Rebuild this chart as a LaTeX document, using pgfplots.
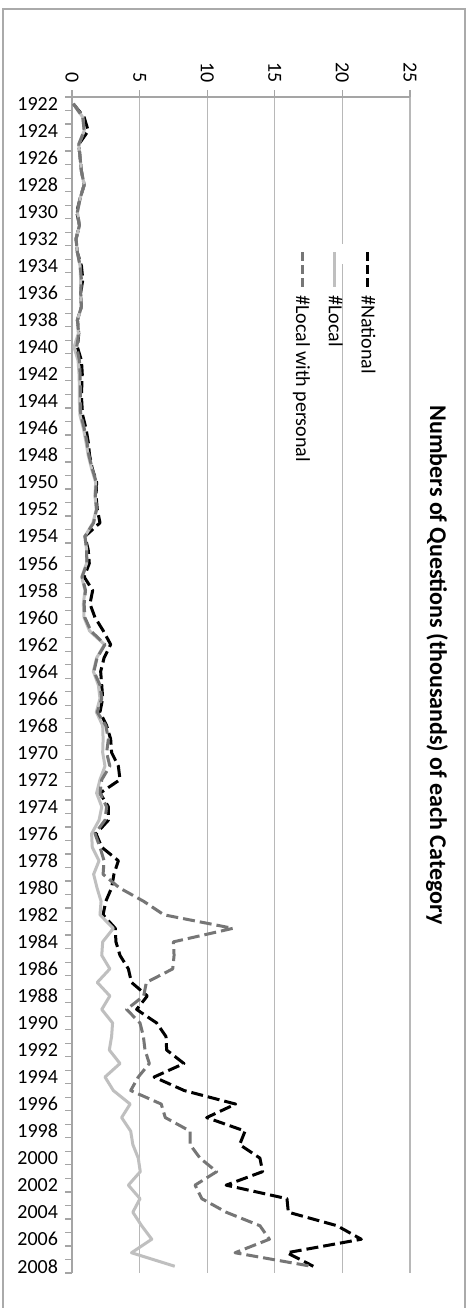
\documentclass[border=0pt]{standalone}
\usepackage{fontspec}
\setmainfont{Carlito}
\usepackage{graphicx}
\usepackage{pgfplots}
\usepackage{pgfplotstable}
\pgfplotsset{compat=1.18}
\definecolor{gridc}{RGB}{184,184,184}
\definecolor{axisc}{RGB}{165,165,165}
\definecolor{locc}{RGB}{191,191,191}
\definecolor{lwpc}{RGB}{118,118,118}
\definecolor{borderc}{RGB}{170,170,170}

\newcommand{\dashsample}[1]{\textcolor{#1}{\rule[2.3pt]{4.5pt}{1.5pt}\hspace{2pt}\rule[2.3pt]{4.5pt}{1.5pt}\hspace{2pt}\rule[2.3pt]{4.5pt}{1.5pt}}}
\newcommand{\solidsample}[1]{\textcolor{#1}{\rule[2.3pt]{17.5pt}{1.5pt}}}
\newcommand{\legentry}[2]{\rotatebox{-90}{\makebox[112pt][l]{\strut#1\hspace{4pt}#2}}}

\pgfplotstableread{
year nat loc lwp
1922 0.1 0.1 0.1
1923 0.9 0.8 0.8
1924 1.2 0.9 0.9
1925 0.5 0.5 0.5
1926 0.6 0.6 0.6
1927 0.7 0.7 0.7
1928 0.9 0.9 0.9
1929 0.6 0.6 0.6
1930 0.35 0.4 0.4
1931 0.55 0.55 0.55
1932 0.3 0.3 0.3
1933 0.4 0.4 0.4
1934 0.7 0.6 0.6
1935 0.8 0.64 0.7
1936 0.64 0.64 0.64
1937 0.7 0.7 0.7
1938 0.4 0.4 0.4
1939 0.5 0.47 0.5
1940 0.4 0.15 0.35
1941 0.7 0.45 0.55
1942 0.76 0.52 0.6
1943 0.72 0.55 0.62
1944 0.72 0.55 0.62
1945 0.78 0.58 0.65
1946 1.03 0.84 0.9
1947 1.2 1.03 1.1
1948 1.3 1.2 1.25
1949 1.5 1.45 1.5
1950 1.82 1.75 1.8
1951 1.78 1.7 1.72
1952 1.87 1.8 1.82
1953 2.07 1.55 1.6
1954 0.96 0.96 0.96
1955 1.2 1.08 1.08
1956 1.28 1.08 1.1
1957 0.9 0.72 0.75
1958 1.53 0.96 1.0
1959 1.33 0.84 0.9
1960 1.7 0.89 0.95
1961 2.32 1.3 1.4
1962 2.86 2.4 2.44
1963 2.37 1.82 1.85
1964 2.12 1.58 1.62
1965 2.2 1.95 2.07
1966 2.27 2.07 2.2
1967 2.07 1.8 1.87
1968 2.56 2.27 2.5
1969 2.86 2.3 2.69
1970 2.93 2.27 2.56
1971 3.43 2.44 2.8
1972 3.55 2.07 2.2
1973 2.07 1.82 2.07
1974 2.69 2.2 2.56
1975 2.69 2.0 2.44
1976 1.78 1.45 1.7
1977 2.2 1.5 2.07
1978 3.43 2.0 2.37
1979 3.1 1.6 2.3
1980 2.93 1.85 3.5
1981 2.5 2.15 5.3
1982 2.3 2.07 6.8
1983 3.2 3.06 11.9
1984 3.25 2.27 7.5
1985 3.55 2.2 7.55
1986 4.17 2.8 7.45
1987 4.4 1.87 5.5
1988 5.57 2.8 5.3
1989 4.78 2.2 4.04
1990 6.26 3.0 5.03
1991 6.95 2.93 5.28
1992 7.0 2.76 5.4
1993 8.28 3.55 5.72
1994 6.07 2.44 4.9
1995 8.3 3.06 4.34
1996 12.1 4.3 6.6
1997 9.96 3.67 6.9
1998 12.8 4.34 8.73
1999 12.4 4.5 8.73
2000 13.9 4.9 9.47
2001 14.1 5.05 10.7
2002 11.4 4.17 9.1
2003 15.9 5.03 9.6
2004 16.0 4.5 11.4
2005 19.6 5.15 13.9
2006 21.4 5.9 14.6
2007 15.9 4.4 12.06
2008 17.85 7.6 17.7
}\qdata

\begin{document}
\begin{tikzpicture}
\path[fill=white] (0,0) rectangle (235pt,-654pt);
\path[use as bounding box] (0,0) rectangle (235pt,-654pt);
\draw[borderc, line width=0.6pt] (1.5pt,-660pt) -- (1.5pt,-4.5pt) -- (232.5pt,-4.5pt) -- (232.5pt,-660pt);
\begin{axis}[
  scale only axis, width=169pt, height=588pt,
  at={(120.5pt,-342.5pt)}, anchor=center,
  xmin=0, xmax=25, ymin=1921.5, ymax=2008.5, y dir=reverse,
  axis x line*=top, axis y line*=left,
  axis line style={axisc, line width=0.6pt},
  xtick={0,5,...,25},
  ytick={1922,1924,...,2008},
  minor ytick={1921.5,1922.5,...,2008.5},
  tick align=outside,
  major tick length=3.5pt, minor tick length=3.5pt,
  tick style={axisc, line width=0.6pt},
  major y tick style={draw=none},
  xmajorgrids,
  major grid style={gridc, line width=0.6pt},
  tick label style={font=\fontsize{10}{12}\selectfont, black},
  /pgf/number format/assume math mode=true,
  /pgf/number format/1000 sep={},
  xticklabel style={rotate=-90, anchor=east},
  legend image code/.code={},
  legend columns=-1,
  reverse legend,
  legend style={at={(axis cs:19.35,1933.1)}, anchor=center,
    draw=none, fill=white, font=\fontsize{10}{12}\selectfont,
    column sep=0pt, nodes={inner sep=2.2pt}},
]
\addplot[black, line width=1.5pt, dash pattern=on 6pt off 2.5pt, line join=round] table[x=nat, y=year]{\qdata};
\addlegendentry{\legentry{\dashsample{black}}{\#National}}
\addplot[locc, line width=1.5pt, line join=round] table[x=loc, y=year]{\qdata};
\addlegendentry{\legentry{\solidsample{locc}}{\#Local}}
\addplot[lwpc, line width=1.5pt, dash pattern=on 6pt off 2.5pt, line join=round] table[x=lwp, y=year]{\qdata};
\addlegendentry{\legentry{\dashsample{lwpc}}{\#Local with personal}}
\end{axis}
\node[rotate=-90, font=\bfseries\fontsize{12}{14}\selectfont] at (218.5pt,-332.5pt) {Numbers of Questions (thousands) of each Category};
\end{tikzpicture}
\end{document}
